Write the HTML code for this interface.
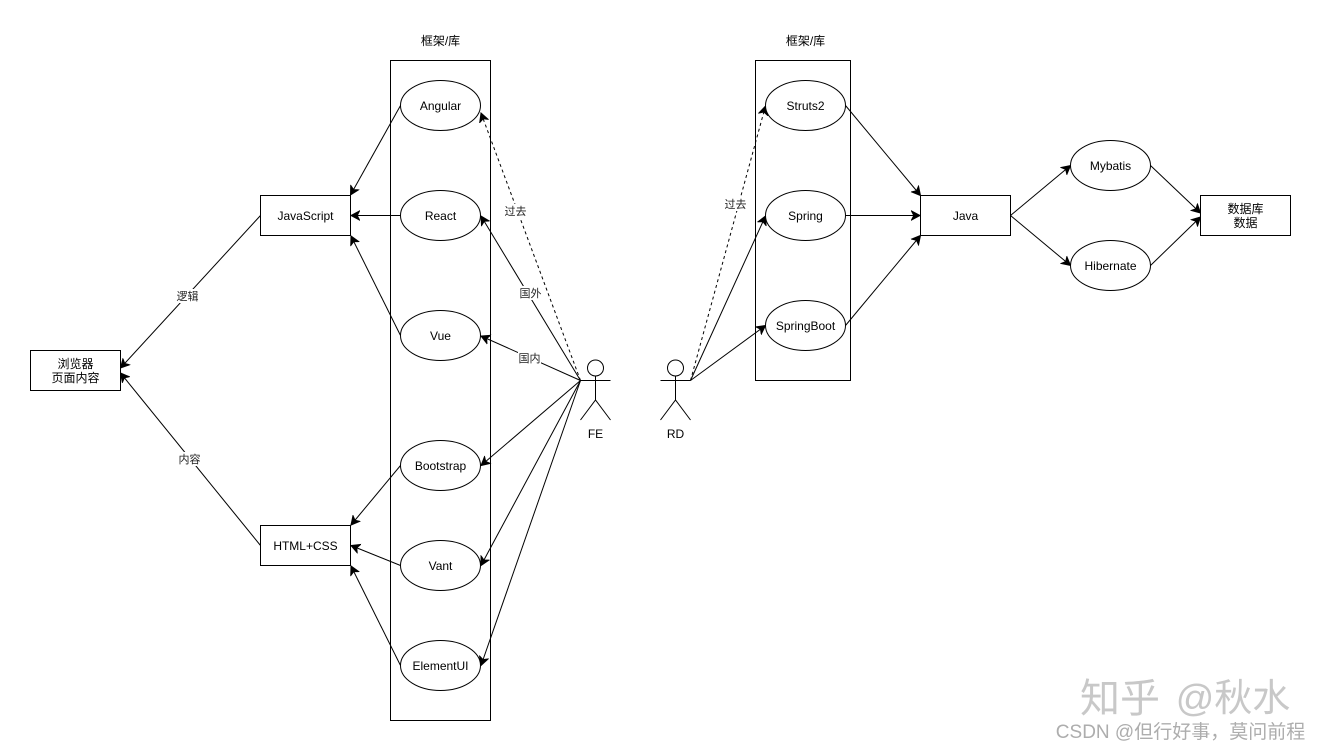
<!DOCTYPE html>
<html>
<head>
<meta charset="utf-8">
<style>
html,body{margin:0;padding:0;background:#fff;width:1321px;height:751px;overflow:hidden}
svg{display:block;filter:blur(0.3px)}
text{font-family:"Liberation Sans","Noto Sans CJK SC",sans-serif;font-size:12px;fill:#000;text-anchor:middle}
.s{fill:none;stroke:#000;stroke-width:1}
.n{fill:#fff;stroke:#000;stroke-width:1}
.e{fill:none;stroke:#000;stroke-width:1;marker-end:url(#a)}
.d{stroke-dasharray:3 3}
.l{font-size:11px;fill:#222}
.b{fill:#fff;stroke:none}
</style>
</head>
<body>
<svg width="1321" height="751" viewBox="0 0 1321 751" xmlns="http://www.w3.org/2000/svg">
<defs>
<marker id="a" markerUnits="userSpaceOnUse" markerWidth="14" markerHeight="12" refX="9" refY="6" orient="auto">
<path d="M0.5 1.5 L9 6 L0.5 10.5 L2.8 6 Z" fill="#000" stroke="#000" stroke-width="1"/>
</marker>
</defs>
<rect width="1321" height="751" fill="#fff"/>

<text x="440.5" y="45">框架/库</text>
<text x="805.5" y="45">框架/库</text>
<rect class="s" x="390.5" y="60.5" width="100" height="660"/>
<rect class="s" x="755.5" y="60.5" width="95" height="320"/>

<!-- edges left -->
<path class="e" d="M400.5 105.5 L350.5 195"/>
<path class="e" d="M400.5 215.5 L351 215.5"/>
<path class="e" d="M400.5 335.5 L351 236"/>
<path class="e" d="M400.5 465.5 L351 525"/>
<path class="e" d="M400.5 565.5 L351 545.5"/>
<path class="e" d="M400.5 665.5 L351 566"/>
<path class="e" d="M260.5 215.5 L120.5 368"/>
<path class="e" d="M260.5 545.5 L120.5 373"/>

<!-- FE edges -->
<path class="e d" d="M580.5 380.5 L481 113"/>
<path class="e" d="M580.5 380.5 L481 216"/>
<path class="e" d="M580.5 380.5 L481 336"/>
<path class="e" d="M580.5 380.5 L481 465.5"/>
<path class="e" d="M580.5 380.5 L481 565.5"/>
<path class="e" d="M580.5 380.5 L481 665.5"/>

<!-- RD edges -->
<path class="e d" d="M690.5 380.5 L765.5 106"/>
<path class="e" d="M690.5 380.5 L765.5 216"/>
<path class="e" d="M690.5 380.5 L765.5 325.5"/>

<!-- right -->
<path class="e" d="M845.5 105.5 L920.5 195.5"/>
<path class="e" d="M845.5 215.5 L920 215.5"/>
<path class="e" d="M845.5 325.5 L920.5 235.5"/>
<path class="e" d="M1010.5 215.5 L1070.5 165.5"/>
<path class="e" d="M1010.5 215.5 L1070.5 265.5"/>
<path class="e" d="M1150.5 165.5 L1200.5 213"/>
<path class="e" d="M1150.5 265.5 L1200.5 217"/>

<g>
<ellipse class="n" cx="440.5" cy="105.5" rx="40" ry="25"/><text x="440.5" y="110">Angular</text>
<ellipse class="n" cx="440.5" cy="215.5" rx="40" ry="25"/><text x="440.5" y="220">React</text>
<ellipse class="n" cx="440.5" cy="335.5" rx="40" ry="25"/><text x="440.5" y="340">Vue</text>
<ellipse class="n" cx="440.5" cy="465.5" rx="40" ry="25"/><text x="440.5" y="470">Bootstrap</text>
<ellipse class="n" cx="440.5" cy="565.5" rx="40" ry="25"/><text x="440.5" y="570">Vant</text>
<ellipse class="n" cx="440.5" cy="665.5" rx="40" ry="25"/><text x="440.5" y="670">ElementUI</text>
<ellipse class="n" cx="805.5" cy="105.5" rx="40" ry="25"/><text x="805.5" y="110">Struts2</text>
<ellipse class="n" cx="805.5" cy="215.5" rx="40" ry="25"/><text x="805.5" y="220">Spring</text>
<ellipse class="n" cx="805.5" cy="325.5" rx="40" ry="25"/><text x="805.5" y="330">SpringBoot</text>
<ellipse class="n" cx="1110.5" cy="165.5" rx="40" ry="25"/><text x="1110.5" y="170">Mybatis</text>
<ellipse class="n" cx="1110.5" cy="265.5" rx="40" ry="25"/><text x="1110.5" y="270">Hibernate</text>
</g>

<!-- rects -->
<rect class="n" x="260.5" y="195.5" width="90" height="40"/><text x="305.5" y="220">JavaScript</text>
<rect class="n" x="260.5" y="525.5" width="90" height="40"/><text x="305.5" y="550">HTML+CSS</text>
<rect class="n" x="30.5" y="350.5" width="90" height="40"/>
<text x="75.5" y="368">浏览器</text><text x="75.5" y="382">页面内容</text>
<rect class="n" x="920.5" y="195.5" width="90" height="40"/><text x="965.5" y="220">Java</text>
<rect class="n" x="1200.5" y="195.5" width="90" height="40"/>
<text x="1245.5" y="213">数据库</text><text x="1245.5" y="227">数据</text>

<!-- edge labels -->
<rect class="b" x="176" y="289" width="23" height="14"/><text class="l" x="187.5" y="300">逻辑</text>
<rect class="b" x="178" y="452" width="23" height="14"/><text class="l" x="189.5" y="463">内容</text>
<rect class="b" x="504" y="204" width="23" height="14"/><text class="l" x="515.5" y="215">过去</text>
<rect class="b" x="519" y="286" width="23" height="14"/><text class="l" x="530.5" y="297">国外</text>
<rect class="b" x="518" y="351" width="23" height="14"/><text class="l" x="529.5" y="362">国内</text>
<rect class="b" x="724" y="197" width="23" height="14"/><text class="l" x="735.5" y="208">过去</text>

<!-- actors -->
<g class="s">
<circle cx="595.5" cy="368" r="8"/>
<path d="M595.5 376 V400 M580.5 380.5 H610.5 M580.5 420 L595.5 400 L610.5 420"/>
<circle cx="675.5" cy="368" r="8"/>
<path d="M675.5 376 V400 M660.5 380.5 H690.5 M660.5 420 L675.5 400 L690.5 420"/>
</g>
<text x="595.5" y="438">FE</text>
<text x="675.5" y="438">RD</text>

<!-- watermarks -->
<text x="1120" y="712" style="font-size:40px;fill:#c8c8c8">知乎</text>
<text x="1233" y="711" style="font-size:38px;fill:#c8c8c8">@秋水</text>
<text x="1180.5" y="738" style="font-size:19px;fill:#adadad">CSDN @但行好事，莫问前程</text>
</svg>
</body>
</html>
